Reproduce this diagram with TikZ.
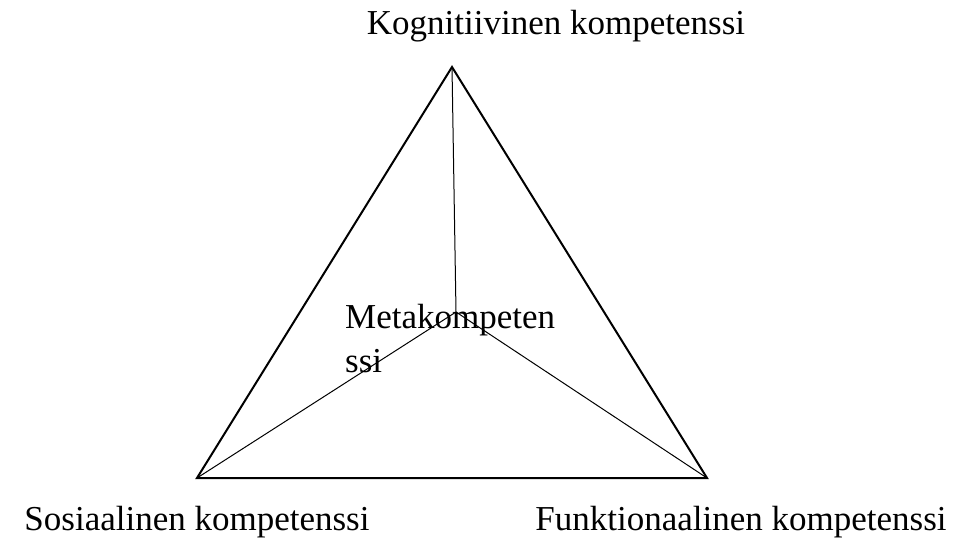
\documentclass[tikz,border=0pt]{standalone}
\usepackage{fontspec}
\setmainfont{Liberation Serif}
\usetikzlibrary{positioning}
\begin{document}
\begin{tikzpicture}[x=1pt,y=-1pt,
    kompteksti/.style={font=\fontsize{35}{44}\selectfont, inner sep=0pt}]
    \useasboundingbox (0,0) rectangle (955,545);
    % Kulmat
    \coordinate (kog) at (452,67);
    \coordinate (sos) at (197,478);
    \coordinate (fun) at (707,478);
    \coordinate (meta) at (456,312);

    % Kolmio
    \draw[line width=2pt] (kog) -- (sos) -- (fun) -- cycle;

    % Metakompetenssi keskelle
    \draw[line width=1pt] (kog) -- (meta);
    \draw[line width=1pt] (meta) -- (sos);
    \draw[line width=1pt] (meta) -- (fun);

    % Tekstit
    \node[kompteksti, anchor=base] (kogteksti) at (556,35) {Kognitiivinen kompetenssi};
    \node[kompteksti, anchor=base] (sosteksti) at (197,530) {Sosiaalinen kompetenssi};
    \node[kompteksti, anchor=base] (funteksti) at (741,530) {Funktionaalinen kompetenssi};
    \node[kompteksti, anchor=base west, align=left] (metateksti) at (345,372) {Metakompeten\\ssi};
\end{tikzpicture}
\end{document}
